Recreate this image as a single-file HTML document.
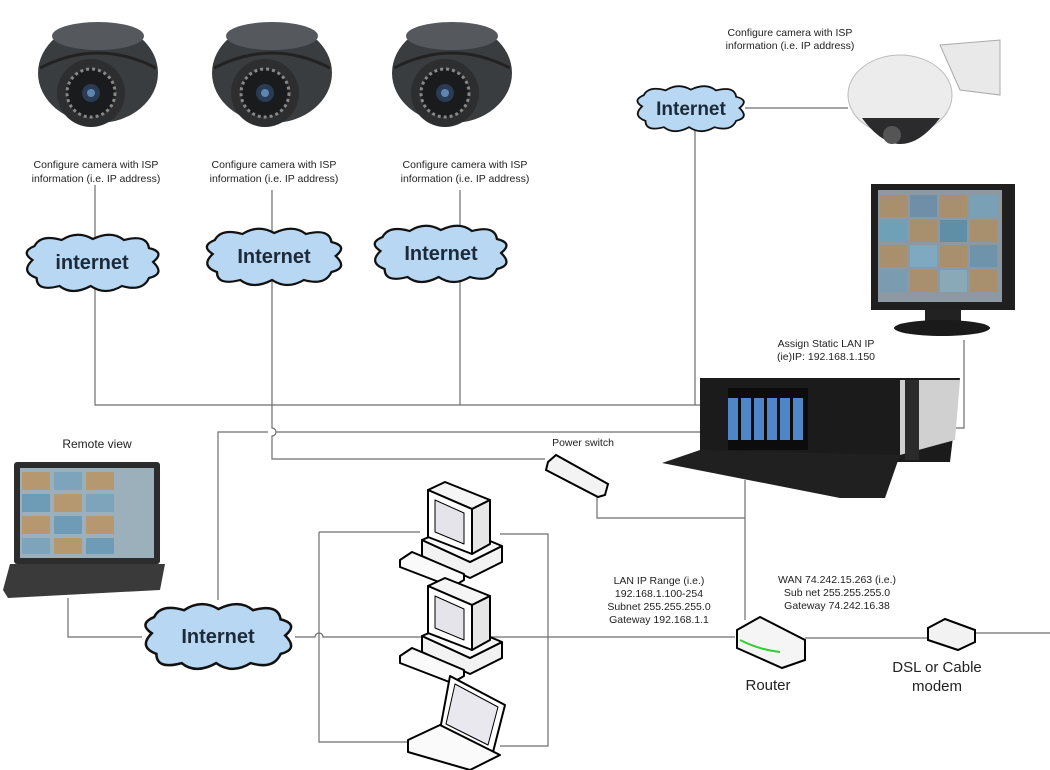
<!DOCTYPE html>
<html><head><meta charset="utf-8"><style>
body{margin:0;background:#fff;}
svg{display:block;font-family:"Liberation Sans",Arial,sans-serif;}
</style></head><body>
<svg width="1050" height="770" viewBox="0 0 1050 770" xmlns="http://www.w3.org/2000/svg">
<defs>
<path id="cloud" d="M12,28 Q0,20 14,14 Q20,2 40,8 Q55,-2 70,7 Q88,-2 100,8 Q122,2 124,16 Q140,20 128,30 Q140,42 124,46 Q118,60 98,54 Q82,64 68,54 Q50,64 38,54 Q16,60 16,46 Q0,40 12,28 Z"/>
<g id="dome">
  <ellipse cx="62" cy="55" rx="60" ry="50" fill="#3a3d40"/>
  <path d="M4,50 Q62,20 120,50" stroke="#222" stroke-width="3" fill="none"/>
  <ellipse cx="62" cy="18" rx="46" ry="14" fill="#55595d"/>
  <circle cx="55" cy="75" r="34" fill="#2c2e30"/>
  <circle cx="55" cy="75" r="24" fill="#1a1b1c" stroke="#888" stroke-width="3" stroke-dasharray="3 3"/>
  <circle cx="55" cy="75" r="9" fill="#2a3c55"/>
  <circle cx="55" cy="75" r="4" fill="#5f86b0"/>
</g>
<g id="pc" stroke="#000" stroke-width="2" stroke-linejoin="round">
  <polygon points="22,58 70,80 102,64 102,80 70,96 22,74" fill="#f2f2f2"/>
  <polygon points="22,58 54,44 102,64 70,80" fill="#fafafa"/>
  <polygon points="28,8 45,0 90,18 72,27" fill="#f5f5f5"/>
  <polygon points="28,8 72,27 72,72 28,55" fill="#fff"/>
  <polygon points="35,18 64,31 64,62 35,50" fill="#e4e4ea" stroke-width="1"/>
  <polygon points="72,27 90,18 90,62 72,72" fill="#e6e6e6"/>
  <polygon points="0,78 12,70 64,92 64,98 52,105 0,85" fill="#fafafa"/>
</g>
</defs>

<!-- connector lines -->
<g stroke="#6d6d6d" stroke-width="1.2" fill="none">
  <path d="M95,185 V405 H700"/>
  <path d="M460,190 V405"/>
  <path d="M272,190 V405 V428 a4,4 0 0 1 0,8 V459 H545"/>
  <path d="M218,600 V432 H268 M276,432 H700"/>
  <path d="M695,130 V405"/>
  <path d="M745,108 H848"/>
  <path d="M964,340 V428 H950"/>
  <path d="M745,480 V620"/>
  <path d="M597,495 V518 H745"/>
  <path d="M68,598 V637 H142"/>
  <path d="M295,637 H315 a4,4 0 0 1 8,0 H735"/>
  <path d="M805,638 H930"/>
  <path d="M975,633 H1050"/>
  <path d="M319,532 H420 M500,534 H548 V746 H500 M420,742 H319 V532"/>
</g>

<!-- dome cameras -->
<use href="#dome" x="36" y="18"/>
<use href="#dome" x="210" y="18"/>
<use href="#dome" x="390" y="18"/>

<g font-size="10.5" fill="#222" text-anchor="middle">
  <text x="96" y="168">Configure camera with ISP</text>
  <text x="96" y="182">information (i.e. IP address)</text>
  <text x="274" y="168">Configure camera with ISP</text>
  <text x="274" y="182">information (i.e. IP address)</text>
  <text x="465" y="168">Configure camera with ISP</text>
  <text x="465" y="182">information (i.e. IP address)</text>
  <text x="790" y="36">Configure camera with ISP</text>
  <text x="790" y="49">information (i.e. IP address)</text>
  <text x="826" y="347">Assign Static LAN IP</text>
  <text x="826" y="360">(ie)IP: 192.168.1.150</text>
  <text x="583" y="446">Power switch</text>
  <text x="97" y="448" font-size="12">Remote view</text>
  <text x="659" y="584">LAN IP Range (i.e.)</text>
  <text x="659" y="597">192.168.1.100-254</text>
  <text x="659" y="610">Subnet 255.255.255.0</text>
  <text x="659" y="623">Gateway 192.168.1.1</text>
  <text x="837" y="583">WAN 74.242.15.263 (i.e.)</text>
  <text x="837" y="596">Sub net 255.255.255.0</text>
  <text x="837" y="609">Gateway 74.242.16.38</text>
  <text x="768" y="690" font-size="15">Router</text>
  <text x="937" y="672" font-size="15">DSL or Cable</text>
  <text x="937" y="691" font-size="15">modem</text>
</g>

<!-- clouds -->
<g fill="#b7d7f2" stroke="#111" stroke-width="2.2">
  <use href="#cloud" transform="translate(20,232) scale(1.04,1)"/>
  <use href="#cloud" transform="translate(200,226) scale(1.06,1)"/>
  <use href="#cloud" transform="translate(368,223) scale(1.04,1)"/>
  <use href="#cloud" transform="translate(632,84) scale(0.84,0.8)"/>
  <use href="#cloud" transform="translate(138,601) scale(1.15,1.15)"/>
</g>
<g font-weight="bold" fill="#1d2a3a" text-anchor="middle">
  <text x="92" y="269" font-size="20">internet</text>
  <text x="274" y="263" font-size="20">Internet</text>
  <text x="441" y="260" font-size="20">Internet</text>
  <text x="691" y="115" font-size="19">Internet</text>
  <text x="218" y="643" font-size="20">Internet</text>
</g>

<!-- PTZ camera -->
<g>
  <path d="M940,45 L1000,40 L1000,95 L960,90 Z" fill="#e9e9ea" stroke="#aaa"/>
  <ellipse cx="900" cy="95" rx="52" ry="40" fill="#ececec" stroke="#bbb"/>
  <path d="M862,118 Q900,170 940,118 Z" fill="#2b2b2e"/>
  <circle cx="892" cy="135" r="9" fill="#555"/>
</g>

<!-- monitor -->
<g>
  <rect x="871" y="184" width="144" height="126" fill="#1f1f1f"/>
  <rect x="878" y="190" width="124" height="112" fill="#8c99a2"/>
  <g fill="#a88f6e">
    <rect x="880" y="195" width="27" height="22"/><rect x="910" y="195" width="27" height="22" fill="#6f8fa8"/><rect x="940" y="195" width="27" height="22"/><rect x="970" y="195" width="27" height="22" fill="#7aa0b5"/>
    <rect x="880" y="220" width="27" height="22" fill="#6ea0b8"/><rect x="910" y="220" width="27" height="22"/><rect x="940" y="220" width="27" height="22" fill="#5f8fa6"/><rect x="970" y="220" width="27" height="22"/>
    <rect x="880" y="245" width="27" height="22"/><rect x="910" y="245" width="27" height="22" fill="#7fa9c0"/><rect x="940" y="245" width="27" height="22"/><rect x="970" y="245" width="27" height="22" fill="#6f93aa"/>
    <rect x="880" y="270" width="27" height="22" fill="#7a9cb0"/><rect x="910" y="270" width="27" height="22"/><rect x="940" y="270" width="27" height="22" fill="#89a8b8"/><rect x="970" y="270" width="27" height="22"/>
  </g>
  <rect x="925" y="310" width="36" height="14" fill="#222"/>
  <ellipse cx="942" cy="328" rx="48" ry="8" fill="#1a1a1a"/>
</g>

<!-- DVR -->
<g>
  <polygon points="700,378 960,378 950,462 700,462" fill="#1b1b1b"/>
  <polygon points="900,380 960,380 955,440 900,455" fill="#d0d0d0"/>
  <rect x="905" y="380" width="14" height="80" fill="#2a2a2a"/>
  <rect x="728" y="388" width="80" height="62" fill="#0c0c0c"/>
  <g fill="#4f86c8">
    <rect x="728" y="398" width="10" height="42"/><rect x="741" y="398" width="10" height="42"/><rect x="754" y="398" width="10" height="42"/><rect x="767" y="398" width="10" height="42"/><rect x="780" y="398" width="10" height="42"/><rect x="793" y="398" width="10" height="42"/>
  </g>
  <polygon points="662,463 700,450 900,455 885,498 840,498" fill="#202020"/>
</g>

<!-- power switch -->
<polygon points="548,462 556,455 608,484 605,495 598,497 546,470" fill="#f3f3f3" stroke="#000" stroke-width="2"/>

<!-- remote laptop -->
<g>
  <rect x="14" y="462" width="146" height="102" fill="#2c2c2c" rx="3"/>
  <rect x="20" y="468" width="134" height="90" fill="#9cb0bb"/>
  <g fill="#b59870"><rect x="22" y="472" width="28" height="18"/><rect x="54" y="472" width="28" height="18" fill="#7ea4bc"/><rect x="86" y="472" width="28" height="18"/><rect x="22" y="494" width="28" height="18" fill="#6e9bb6"/><rect x="54" y="494" width="28" height="18"/><rect x="86" y="494" width="28" height="18" fill="#7ea4bc"/><rect x="22" y="516" width="28" height="18"/><rect x="54" y="516" width="28" height="18" fill="#6e9bb6"/><rect x="86" y="516" width="28" height="18"/><rect x="22" y="538" width="28" height="16" fill="#7ea4bc"/><rect x="54" y="538" width="28" height="16"/><rect x="86" y="538" width="28" height="16" fill="#6e9bb6"/></g>
  <polygon points="10,564 165,564 160,590 8,598 3,590" fill="#3a3a3a"/>
</g>

<!-- PCs -->
<use href="#pc" x="400" y="482"/>
<use href="#pc" x="400" y="578"/>
<!-- laptop -->
<g stroke="#000" stroke-width="2" stroke-linejoin="round">
  <polygon points="450,676 505,705 492,756 440,730" fill="#fff"/>
  <polygon points="455,684 498,707 488,745 446,724" fill="#e8e8ee" stroke-width="1"/>
  <polygon points="408,740 440,725 500,755 470,770 408,752" fill="#fafafa"/>
</g>

<!-- router -->
<g stroke="#000" stroke-width="2">
  <polygon points="737,630 760,617 805,640 805,660 782,668 737,648" fill="#f5f5f5"/>
  <path d="M740,640 Q760,650 780,652" stroke="#3c3" stroke-width="2" fill="none"/>
</g>
<!-- modem -->
<polygon points="928,628 945,619 975,630 975,642 958,650 928,640" fill="#f2f2f2" stroke="#000" stroke-width="2"/>
</svg>
</body></html>
